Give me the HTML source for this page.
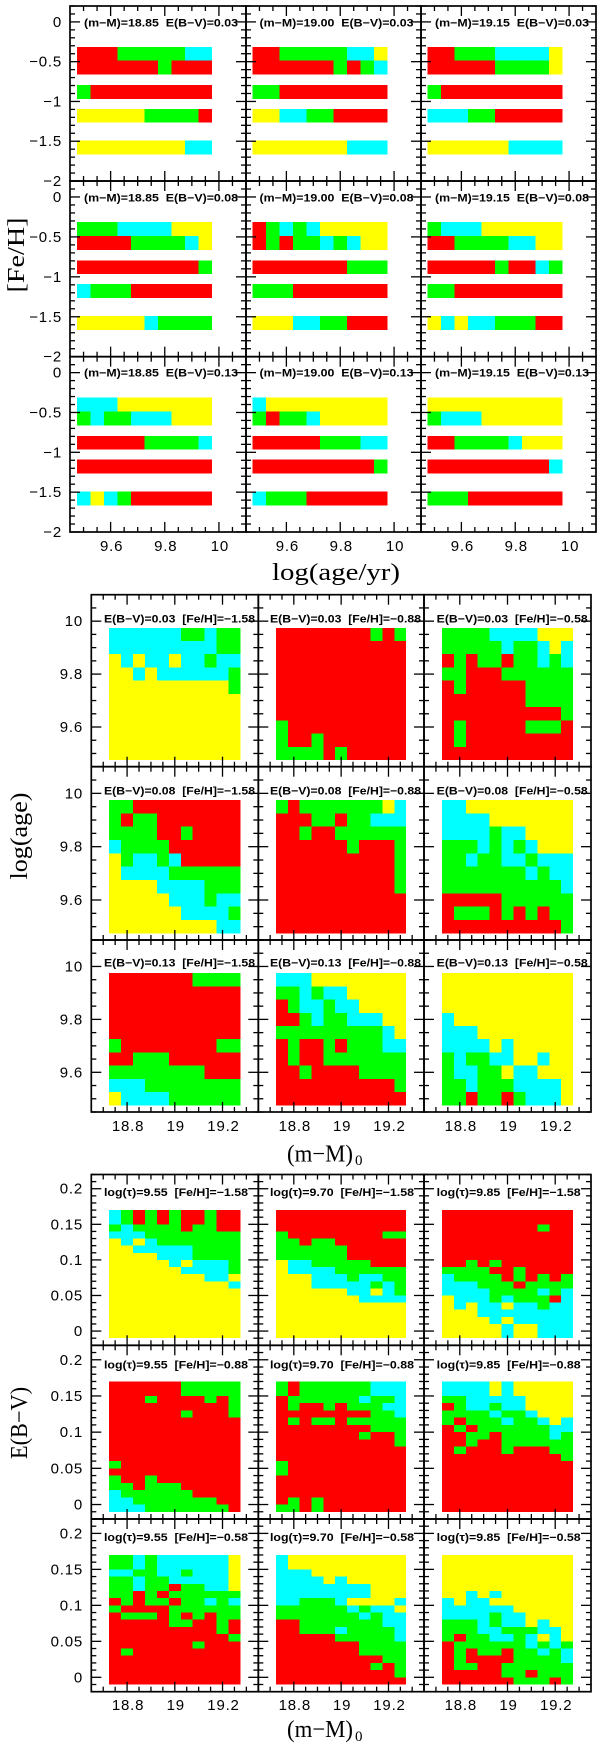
<!DOCTYPE html>
<html>
<head>
<meta charset="utf-8">
<title>Stellar population fit grids</title>
<style>
html,body{margin:0;padding:0;background:#fff;}
svg{display:block;}
.tick-label{font-family:"Liberation Sans",sans-serif;font-size:15px;letter-spacing:.8px;fill:#000;}
.panel-label{font-family:"Liberation Sans","DejaVu Sans",sans-serif;font-size:11px;font-weight:bold;fill:#000;}
.axis-title{font-family:"Liberation Serif",serif;font-size:24px;fill:#000;}
</style>
</head>
<body>
<svg id="chart" xmlns="http://www.w3.org/2000/svg" width="600" height="1747" viewBox="0 0 600 1747">
  <rect x="0" y="0" width="600" height="1747" fill="#fff"/>
  <text class="axis-title" transform="translate(24,255) rotate(-90)" text-anchor="middle" textLength="75" lengthAdjust="spacingAndGlyphs">[Fe/H]</text>
  <text class="axis-title" x="272" y="580" textLength="128" lengthAdjust="spacingAndGlyphs">log(age/yr)</text>
  <text class="axis-title" transform="translate(27,836) rotate(-90)" text-anchor="middle" textLength="87" lengthAdjust="spacingAndGlyphs">log(age)</text>
  <text class="axis-title" x="287" y="1161.5" textLength="66" lengthAdjust="spacingAndGlyphs">(m−M)</text>
  <text class="axis-title" x="355" y="1165" style="font-size:15px">0</text>
  <text class="axis-title" transform="translate(27,1423) rotate(-90)" text-anchor="middle" textLength="72" lengthAdjust="spacingAndGlyphs">E(B−V)</text>
  <text class="axis-title" x="287" y="1737" textLength="66" lengthAdjust="spacingAndGlyphs">(m−M)</text>
  <text class="axis-title" x="355" y="1741" style="font-size:15px">0</text>
</svg>
<script>
/* ---------- shared category data ---------- */
const fitColours = {r:'#ff0000', g:'#00ff00', c:'#00ffff', y:'#ffff00'};
const ageCentres = [9.5,9.55,9.6,9.65,9.7,9.75,9.8,9.85,9.9,9.95];
const ageCentresDescending = [9.95,9.9,9.85,9.8,9.75,9.7,9.65,9.6,9.55,9.5];
const fehRows = [-0.4,-0.575,-0.88,-1.18,-1.58];
const modulusCentres = [18.75,18.8,18.85,18.9,18.95,19,19.05,19.1,19.15,19.2,19.25];
const reddeningCentres = [0.165,0.155,0.145,0.135,0.125,0.115,0.105,0.095,0.085,0.075,0.065,0.055,0.045,0.035,0.025,0.015,0.005,-0.005];

/* ---------- top group: [Fe/H] vs log(age) ---------- */
const topModuli = ['18.85','19.00','19.15'];
const topReddenings = ['0.03','0.08','0.13'];
const topXTicks = [9.6,9.8,10];
const topXTickLabels = ['9.6','9.8','10'];
const topYTicks = [0,-0.5,-1,-1.5,-2];
const topYTickLabels = ['0','−0.5','−1','−1.5','−2'];
const topGrids = [
 [["rrrgggggcc","rrrrrrgrrr","grrrrrrrrr","yyyyyggggr","yyyyyyyycc"],
  ["rrgggggccy","rrrrrrgrgc","ggrrrrrrrr","yyccggrrrr","yyyyyyyccc"],
  ["rrgggccccy","rrrrrggggy","grrrrrrrrr","cccggrrrrr","yyyyyycccc"]],
 [["gggccccyyy","rrrrggggcy","rrrrrrrrrg","cgggrrrrrr","yyyyycgggg"],
  ["rgcgcyyyyy","rgrggcgcyy","rrrrrrrggg","gggrrrrrrr","yyyccggrrr"],
  ["gcccyyyyyy","rrggggccyy","rrrrrgrrcg","ggrrrrrrrr","ycyccgggrr"]],
 [["cccyyyyyyy","gcggcccyyy","rrrrrggggc","rrrrrrrrrr","cycgrrrrrr"],
  ["cyyyyyyyyy","grggcyyyyy","rrrrrgggcc","rrrrrrrrrg","cgggrrrrrr"],
  ["yyyyyyyyyy","gcccyyyyyy","rrggggcyyy","rrrrrrrrrc","gggrrrrrrr"]]
];

/* ---------- middle group: log(age) vs (m-M) ---------- */
const midFeh = ['−1.58','−0.88','−0.58'];
const midReddenings = ['0.03','0.08','0.13'];
const modulusTicks = [18.8,19,19.2];
const modulusTickLabels = ['18.8','19','19.2'];
const midYTicks = [10,9.8,9.6];
const midYTickLabels = ['10','9.8','9.6'];
const midGrids = [
 [["ccccccggcgg","cccccccccgg","ycyccyccgcc","yycyccccccg","yyyyyyyyyyg","yyyyyyyyyyy","yyyyyyyyyyy","yyyyyyyyyyy","yyyyyyyyyyy","yyyyyyyyyyy"],
  ["rrrrrrrrgrg","rrrrrrrrrrr","rrrrrrrrrrr","rrrrrrrrrrr","rrrrrrrrrrr","rrrrrrrrrrr","rrrrrrrrrrr","grrrrrrrrrr","grrgrrrrrrr","ggggrgrrrrr"],
  ["ggggccccyyy","gggggcggcyc","rgrggrggcgc","ggrrrgggggg","rgrrrrrgggg","rrrrrrrgggg","rrrrrrrrrrg","rgrrrrrgggr","rgrrrrrrrrr","rrrrrrrrrrr"]],
 [["ggrrrrrrrrr","grggrrrrrrr","ggggrrgrrrr","cggggrrrrrr","ygccgcrrrrr","yccccgggggg","yyyyccccggg","yyyyycccgcc","yyyyyyccccg","yyyyyyyyycc"],
  ["grgggggggyc","rrrggrggccc","rrgrrgggggg","rrrrrrgrrrg","rrrrrrrrrrg","rrrrrrrrrrg","rrrrrrrrrrg","rrrrrrrrrrr","rrrrrrrrrrr","rrrrrrrrrrr"],
  ["ccyyyyyyyyy","ccccyyyyyyy","ccccgccyyyy","gggcgcgcyyy","ggcggccgccc","gggggggcgcc","ggggggggggc","rrrrrgggggg","rgggrgrgrgg","rrrrrrrrrrg"]],
 [["rrrrrrrgggg","rrrrrrrrrrr","rrrrrrrrrrr","rrrrrrrrrrr","rrrrrrrrrrr","grrrrrrrrgg","rrgggrrrrrr","ggggggggrrr","cccgggggggg","yccccgggggg"],
  ["cccyyyyyyyy","ggcgccyyyyy","rgccgccyyyy","rrgcggcccyy","gggggggggcy","rgrrgrgggcc","rgrrggggggg","rrgrrrrgggg","rrrrrrrrrrg","rrrrrrrrrrr"],
  ["yyyyyyyyyyy","yyyyyyyyyyy","yyyyyyyyyyy","cyyyyyyyyyy","cccyyyyyyyy","ccccycyyyyy","gcggccyycyy","gccggyccyyy","ggcgggccccy","ggrggrgcccy"]]
];

/* ---------- bottom group: E(B-V) vs (m-M) ---------- */
const botAges = ['9.55','9.70','9.85'];
const botFeh = ['−1.58','−0.88','−0.58'];
const botYTicks = [0.2,0.15,0.1,0.05,0];
const botYTickLabels = ['0.2','0.15','0.1','0.05','0'];
const botGrids = [
 [["cgrgrgrrgrr","cgrgrgrrgrr","gcggggrggrr","cccgggggggg","ycycggggggg","yycccccgggg","yyyycccgggg","yyyyycycccg","yyyyyyccccg","yyyyyyyyccy","yyyyyyyyyyc","yyyyyyyyyyy","yyyyyyyyyyy","yyyyyyyyyyy","yyyyyyyyyyy","yyyyyyyyyyy","yyyyyyyyyyy","yyyyyyyyyyy"],
  ["rrrrrrrrrrr","rrrrrrrrrrr","rrrrrrrrrrr","grrrrrrrrgg","ggrggrrrrrr","ggggggrrrrr","ggggggrrrrr","yccgggggrrr","yccccgggggg","yyycccgccgg","yyycccccgcg","yyyyyyccycg","yyyyyyycccc","yyyyyyyyyyy","yyyyyyyyyyy","yyyyyyyyyyy","yyyyyyyyyyy","yyyyyyyyyyy"],
  ["rrrrrrrrrrr","rrrrrrrrrrr","rrrrrrrrgrr","rrrrrrrrrrr","rrrrrrrrrrr","rrrrrrrrrrr","rrrrrrrrrrr","rrgrgrrrrrr","ggggrrgrrrr","cggggrgrgrg","cccgggrgggg","ccccggggcgc","ycccgcgggrc","ycyccyccgcc","yyycccccccc","yyyycyccccc","yyyyycyyccc","yyyyycyyccc"]],
 [["rrrrrrggggg","rrrrrrggggg","rrrgrrrrgrg","rrrrrrrrrrg","rrrrrrgrrrg","rrrrrrrrrrr","rrrrrrrrrrr","rrrrrrrrrrr","rrrrrrrrrrr","rrrrrrrrrrr","rrrrrrrrrrr","grrrrrrrrrr","rrrrrrrrrrr","grrgrrrrrrr","ggrgggrrrrr","cggggggrrrr","ccgggggggrr","cccgggggggr"],
  ["grggggggccc","grggggggccc","rggggggcggc","rgrrgrgggcc","rrrrrrrrggc","rgrggrggggg","rrrrrrrrggg","rrrrrrrgrrg","rrrrrrrrrrg","rrrrrrrrrrr","rrrrrrrrrrr","grrrrrrrrrr","grrrrrrrrrr","rrrrrrrrrrr","rrrrrrrrrrr","rrrrrrrrrrr","rgrgrrrrrrr","ggrgrrrrrrr"],
  ["ccccycyyyyy","ccccycyyyyy","ggcccccyyyy","rgccgccyyyy","ggggcggcyyy","grgggcggcyc","rgrggggggcc","rrggrggggcg","rrgrrgggggg","rgrrrgrrrgg","rrrrrrrrrrg","rrrrrrrrrrr","rrrrrrrrrrr","rrrrrrrrrrr","rrrrrrrrrrr","rrrrrrrrrrr","rrrrrrrrrrr","rrrrrrrrrrr"]],
 [["ggcgccccccy","ggcgccccccy","ccggccgcccy","ggcggcccccy","ggcggrggccy","ggrgrgggggg","rgrggrggcgc","grrrrgggggg","rgggrgrgrgg","rrrrrggrrgr","rrrrrrrrrgr","rrrrrrrrrrg","rrrrrrrgrrr","rgrrrrrrrrr","rrrrrrrrrrr","rrrrrrrrrrr","rrrrrrrrrrr","rrrrrrrrrrr"],
  ["cyyyyyyyyyy","cyyyyyyyyyy","cccyyyyyyyy","ccccycyyyyy","ccccccccyyy","ccccccccyyy","ccgggcyyyyc","ggggggcgccy","gggggggcgcc","rrgggggggcc","rrgggcggggc","rrrrrgggggc","rrrrrrrgggg","rrrrrrrgggg","rrrrrrrrrgg","rrrrrrrrgrg","rrrrrrrrrrg","rrrrrrrrrrr"],
  ["yyyyyyyyyyy","yyyyyyyyyyy","yyyyyyyyyyy","yyyyyyyyyyy","yyyyyyyyyyy","yycycyyyyyy","cyccyyyyyyy","ccccccyyyyy","ccccgccyyyy","gggcgccycyy","gggccgggccy","grggccgcycy","rggggggcgcg","rgrggrggcgc","rgrrrrggggc","rggrrgggggg","rrrrrggrggg","rrrrrrgggrg"]]
];

/* ---------- drawing ---------- */
const SVG_NS = 'http://www.w3.org/2000/svg';
const svg = document.getElementById('chart');

function make(tag, parent, attrs) {
  const node = document.createElementNS(SVG_NS, tag);
  for (const k in attrs) node.setAttribute(k, attrs[k]);
  parent.appendChild(node);
  return node;
}

function drawLine(parent, x1, y1, x2, y2, width, name) {
  const l = make('line', parent, {x1:x1, y1:y1, x2:x2, y2:y2, stroke:'#000', 'stroke-width':width});
  
  
}

function drawLabel(parent, cls, x, y, anchor, str, name, len) {
  const t = make('text', parent, {class:cls, x:x, y:y, 'text-anchor':anchor});
  if (len) {
    t.setAttribute('textLength', len);
    t.setAttribute('lengthAdjust', 'spacingAndGlyphs');
  }
  t.textContent = str;
  
  
}

function drawGroup(cfg) {
  const grp = make('g', svg, {});
  
  

  for (let row = 0; row < 3; row++) {
    for (let col = 0; col < 3; col++) {
      const left = cfg.xFrames[col], right = cfg.xFrames[col + 1];
      const top = cfg.yFrames[row], bottom = cfg.yFrames[row + 1];
      const xAxis = v => left + (v - cfg.xMin) / (cfg.xMax - cfg.xMin) * (right - left);
      const yAxis = v => top + (cfg.yMax - v) / (cfg.yMax - cfg.yMin) * (bottom - top);

      const panel = make('g', grp, {});
      
      

      /* cells */
      const grid = cfg.grids[row][col];
      const cells = make('g', panel, {'shape-rendering':'crispEdges'});
      
      
      grid.forEach((rowStr, ri) => {
        const yv = cfg.rowValues[ri];
        cfg.colValues.forEach((xv, ci) => {
          const x0 = xAxis(xv - cfg.colHalf), x1 = xAxis(xv + cfg.colHalf);
          const y0 = yAxis(yv + cfg.rowHalf), y1 = yAxis(yv - cfg.rowHalf);
          const r = make('rect', cells, {x:x0, y:y0, width:x1 - x0, height:y1 - y0, fill:fitColours[rowStr[ci]]});
          
          
        });
      });

      /* frame */
      const f = make('rect', panel, {x:left, y:top, width:right - left, height:bottom - top, fill:'none', stroke:'#000', 'stroke-width':1.7});
      
      

      /* x ticks */
      const xN = Math.round((cfg.xMax - cfg.xMin) / cfg.xMinor);
      for (let i = 1; i < xN; i++) {
        const v = cfg.xMin + i * cfg.xMinor;
        const major = cfg.xTicks.some(t => Math.abs(t - v) < 1e-6);
        const len = major ? 10 : 5;
        const px = xAxis(v);
        drawLine(panel, px, top, px, top + len, 1.3, 'x-tick-top');
        drawLine(panel, px, bottom, px, bottom - len, 1.3, 'x-tick-bottom');
      }
      /* y ticks */
      const yN = Math.round((cfg.yMax - cfg.yMin) / cfg.yMinor);
      for (let i = 0; i <= yN; i++) {
        const v = cfg.yMin + i * cfg.yMinor;
        const major = cfg.yTicks.some(t => Math.abs(t - v) < 1e-6);
        const len = major ? 10 : 5;
        const py = yAxis(v);
        drawLine(panel, left, py, left + len, py, 1.3, 'y-tick-left');
        drawLine(panel, right, py, right - len, py, 1.3, 'y-tick-right');
      }

      /* tick labels */
      if (col === 0) {
        cfg.yTicks.forEach((t, i) => {
          drawLabel(panel, 'tick-label', cfg.yLabelX, yAxis(t) + 5, 'end', cfg.yTickLabels[i], 'y-tick-label');
        });
      }
      if (row === 2) {
        cfg.xTicks.forEach((t, i) => {
          drawLabel(panel, 'tick-label', xAxis(t) + 1, cfg.xLabelY, 'middle', cfg.xTickLabels[i], 'x-tick-label');
        });
      }

      /* panel caption */
      drawLabel(panel, 'panel-label', cfg.captionX[col], cfg.captionY[row], 'start', cfg.caption(row, col), 'panel-caption', cfg.captionLen);
    }
  }
}

drawGroup({
  name:'feh-vs-age-group',
  xFrames:[70,246,421,596], yFrames:[6,181,356.7,532],
  xMin:9.45, xMax:10.1, yMin:-2, yMax:0.2,
  xMinor:0.05, yMinor:0.1,
  xTicks:topXTicks, xTickLabels:topXTickLabels,
  yTicks:topYTicks, yTickLabels:topYTickLabels,
  yLabelX:62, xLabelY:551,
  grids:topGrids, colValues:ageCentres, rowValues:fehRows,
  colHalf:0.025, rowHalf:0.0875,
  captionX:[84,259.5,435], captionY:[26.3,201.7,376.7], captionLen:154,
  caption:(r,c)=>'(m−M)='+topModuli[c]+'\u00a0\u00a0E(B−V)='+topReddenings[r]
});

drawGroup({
  name:'age-vs-modulus-group',
  xFrames:[91.3,258.3,424,591], yFrames:[594.7,766.7,940,1112],
  xMin:18.65, xMax:19.35, yMin:9.45, yMax:10.1,
  xMinor:0.05, yMinor:0.05,
  xTicks:modulusTicks, xTickLabels:modulusTickLabels,
  yTicks:midYTicks, yTickLabels:midYTickLabels,
  yLabelX:83, xLabelY:1131,
  grids:midGrids, colValues:modulusCentres, rowValues:ageCentresDescending,
  colHalf:0.025, rowHalf:0.025,
  captionX:[104,270,436.7], captionY:[622.3,794.7,966.7], captionLen:151,
  caption:(r,c)=>'E(B−V)='+midReddenings[r]+'\u00a0\u00a0[Fe/H]='+midFeh[c]
});

drawGroup({
  name:'reddening-vs-modulus-group',
  xFrames:[91.3,258.3,424,591], yFrames:[1174.5,1345.3,1519,1691.7],
  xMin:18.65, xMax:19.35, yMin:-0.02, yMax:0.22,
  xMinor:0.05, yMinor:0.01,
  xTicks:modulusTicks, xTickLabels:modulusTickLabels,
  yTicks:botYTicks, yTickLabels:botYTickLabels,
  yLabelX:83, xLabelY:1710,
  grids:botGrids, colValues:modulusCentres, rowValues:reddeningCentres,
  colHalf:0.025, rowHalf:0.005,
  captionX:[104,270,436.7], captionY:[1196,1368.7,1541], captionLen:144,
  caption:(r,c)=>'log(τ)='+botAges[c]+'\u00a0\u00a0[Fe/H]='+botFeh[r]
});
</script>
</body>
</html>
